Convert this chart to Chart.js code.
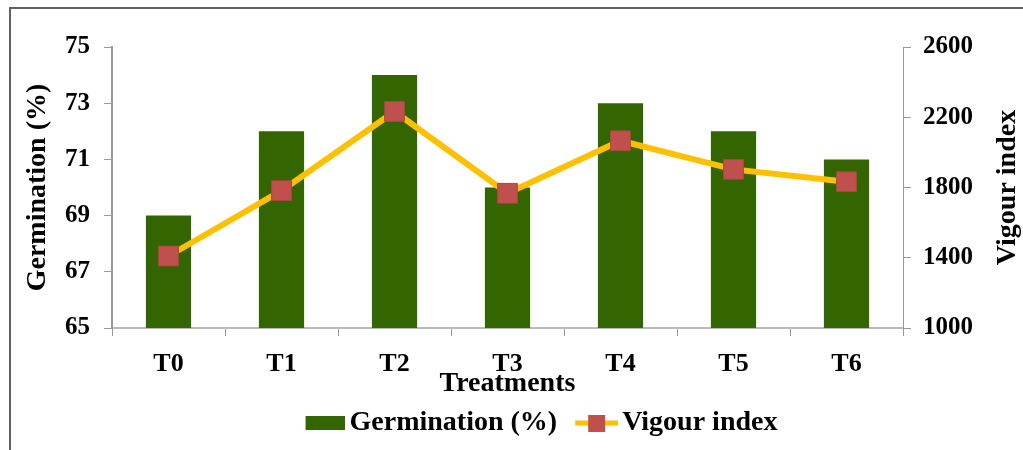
<!DOCTYPE html>
<html>
<head>
<meta charset="utf-8">
<script src="https://cdn.jsdelivr.net/npm/chart.js@4.4.1/dist/chart.umd.min.js"></script>
<style>
  html, body { margin: 0; padding: 0; background: #fff; overflow: hidden; }
  #wrap { position: relative; width: 1023px; height: 450px; }
  #frame { position: absolute; left: 9px; top: 7px; width: 1100px; height: 500px; border: 2px solid #606060; }
  canvas { position: absolute; left: 0; top: 0; }
</style>
</head>
<body>
<div id="wrap">
  <div id="frame"></div>
  <canvas id="chart" width="1023" height="450"></canvas>
</div>
<script>
// datos
const treatments = ['T0', 'T1', 'T2', 'T3', 'T4', 'T5', 'T6'];
const germination = [69, 72, 74, 70, 73, 72, 71];
const vigourIndex = [1410, 1782, 2233, 1767, 2066, 1903, 1833];

const germTicks = [65, 67, 69, 71, 73, 75];
const vigourTicks = [1000, 1400, 1800, 2200, 2600];

const fontFamily = '"Liberation Serif", "Times New Roman", serif';
const green = '#336600';
const yellow = '#FFC000';
const red = '#C0504D';

// iconos de la leyenda (el texto empieza en x+44)
function legendBar() {
    const c = document.createElement('canvas');
    c.width = 48; c.height = 14;
    const g = c.getContext('2d');
    g.fillStyle = green;
    g.fillRect(9, 0, 39, 14);
    return c;
}
function legendLine() {
    const c = document.createElement('canvas');
    c.width = 50; c.height = 18;
    const g = c.getContext('2d');
    g.strokeStyle = yellow;
    g.lineWidth = 5;
    g.beginPath(); g.moveTo(7, 9); g.lineTo(50, 9); g.stroke();
    g.fillStyle = red;
    g.fillRect(20, 1, 17, 17);
    return c;
}
const legendIcons = [legendBar(), legendLine()];

// título del eje derecho (leído de abajo hacia arriba)
const rightTitle = {
    id: 'rightTitle',
    afterDraw(chart) {
        const s = chart.scales.y2;
        const ctx = chart.ctx;
        ctx.save();
        ctx.translate(1008, (s.top + s.bottom) / 2);
        ctx.rotate(-Math.PI / 2);
        ctx.font = 'bold 28px ' + fontFamily;
        ctx.fillStyle = '#000';
        ctx.textAlign = 'center';
        ctx.textBaseline = 'middle';
        ctx.fillText('Vigour index', 0, 0);
        ctx.restore();
    }
};

const ctx = document.getElementById('chart').getContext('2d');
new Chart(ctx, {
    data: {
        labels: treatments,
        datasets: [
            {
                type: 'line',
                label: 'Vigour index',
                data: vigourIndex,
                yAxisID: 'y2',
                borderColor: yellow,
                borderWidth: 6,
                pointStyle: 'rect',
                pointRadius: 14,
                pointBackgroundColor: red,
                pointBorderColor: '#b04540',
                pointBorderWidth: 1,
                tension: 0,
                order: 0
            },
            {
                type: 'bar',
                label: 'Germination (%)',
                data: germination,
                yAxisID: 'y',
                backgroundColor: green,
                barPercentage: 0.4,
                categoryPercentage: 1,
                order: 1
            }
        ]
    },
    options: {
        responsive: false,
        animation: false,
        layout: { padding: { left: 60, right: 0, top: 47, bottom: 3 } },
        plugins: {
            tooltip: { enabled: false },
            legend: {
                position: 'bottom',
                labels: {
                    usePointStyle: true,
                    pointStyleWidth: 30,
                    padding: 21,
                    color: '#000',
                    font: { family: fontFamily, size: 28, weight: 'bold' },
                    generateLabels(chart) {
                        return [1, 0].map((i, k) => ({
                            text: chart.data.datasets[i].label,
                            datasetIndex: i,
                            pointStyle: legendIcons[k],
                            fillStyle: 'transparent',
                            strokeStyle: 'transparent',
                            lineWidth: 0,
                            fontColor: '#000'
                        }));
                    }
                }
            }
        },
        scales: {
            x: {
                offset: true,
                grid: { display: true, offset: true, drawOnChartArea: false, drawTicks: true, tickLength: 8, color: '#999' },
                border: { color: '#bbb', width: 2 },
                ticks: { color: '#000', padding: 13, font: { family: fontFamily, size: 26, weight: 'bold' } },
                title: {
                    display: true,
                    text: 'Treatments',
                    color: '#000',
                    padding: { top: 0, bottom: -13 },
                    font: { family: fontFamily, size: 28, weight: 'bold' }
                },
                afterFit(scale) { scale.height = 60; }
            },
            y: {
                position: 'left',
                min: 65,
                max: 75,
                afterBuildTicks(scale) { scale.ticks = germTicks.map(v => ({ value: v })); },
                grid: { drawOnChartArea: false, tickLength: 8, color: '#999' },
                border: { color: '#999', width: 2 },
                ticks: { color: '#000', padding: 14, font: { family: fontFamily, size: 25, weight: 'bold' }, callback: v => String(v) },
                title: {
                    display: true,
                    text: 'Germination (%)',
                    color: '#000',
                    padding: { top: -39, bottom: 0 },
                    font: { family: fontFamily, size: 28, weight: 'bold' }
                },
                afterFit(scale) { scale.width = 52; }
            },
            y2: {
                position: 'right',
                min: 1000,
                max: 2600,
                afterBuildTicks(scale) { scale.ticks = vigourTicks.map(v => ({ value: v })); },
                grid: { drawOnChartArea: false, tickLength: 8, color: '#999' },
                border: { color: '#999', width: 1 },
                ticks: { color: '#000', padding: 12, font: { family: fontFamily, size: 25, weight: 'bold' }, callback: v => String(v) },
                afterFit(scale) { scale.width = 120; }
            }
        }
    },
    plugins: [rightTitle]
});
</script>
</body>
</html>
